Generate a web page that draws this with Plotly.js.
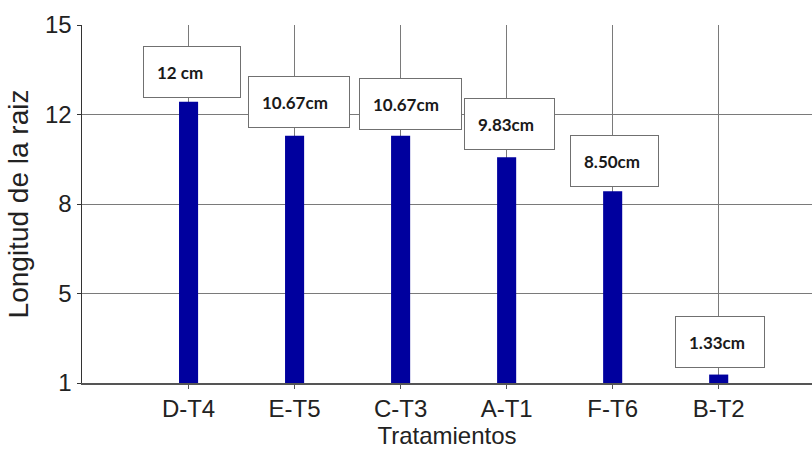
<!DOCTYPE html>
<html>
<head>
<meta charset="utf-8">
<script src="https://cdn.plot.ly/plotly-3.0.1.min.js"></script>
<style>html,body{margin:0;padding:0;background:#fff;}#chart{width:812px;height:455px;}</style>
</head>
<body>
<div id="chart"></div>
<script>
// Data
const categories = ['D-T4', 'E-T5', 'C-T3', 'A-T1', 'F-T6', 'B-T2'];
const rootLength = [12, 10.67, 10.67, 9.83, 8.50, 1.33];
const valueLabels = ['12 cm', '10.67cm', '10.67cm', '9.83cm', '8.50cm', '1.33cm'];
const yTickVals = [1, 4.5, 8, 11.5, 15];
const yTickText = ['1', '5', '8', '12', '15'];

// Label box placement (style)
const boxXShift = [3, 4, 10, 2.5, 1.5, 1];
const boxYShift = [30, 34, 32, 33, 30, 33];
const boxWidth = [70, 74, 75, 63, 61, 62];

const annotations = categories.map((c, i) => ({
  x: c, y: rootLength[i], xref: 'x', yref: 'y',
  text: valueLabels[i], showarrow: false,
  xanchor: 'center', yanchor: 'middle',
  xshift: boxXShift[i], yshift: boxYShift[i],
  width: boxWidth[i], height: 24, align: 'left', valign: 'middle',
  bgcolor: '#ffffff', bordercolor: '#707070', borderwidth: 1, borderpad: 13,
  font: {family: 'Lato, Open Sans, sans-serif', size: 17, color: '#1a1a1a', weight: 700}
}));

// bars start at 1 (axis bottom) -> drawn height = value - 1 above base 1
const trace = {
  type: 'bar', x: categories, y: rootLength.map(v => v - 1), base: 1,
  width: 0.18,
  marker: {color: '#00009E', line: {width: 0}},
  hoverinfo: 'skip'
};

const layout = {
  width: 812, height: 455,
  margin: {l: 82, r: 0, t: 25, b: 72},
  paper_bgcolor: '#ffffff', plot_bgcolor: '#ffffff',
  showlegend: false,
  font: {family: 'Liberation Sans, Arial, sans-serif', color: '#222'},
  xaxis: {
    type: 'category', range: [-1.005, 5.88],
    showgrid: true, gridcolor: '#7a7a7a', gridwidth: 1,
    showline: true, linecolor: '#555', linewidth: 1.5,
    ticks: 'outside', ticklen: 4, tickcolor: '#555',
    tickfont: {size: 24, color: '#222'},
    title: {text: 'Tratamientos', font: {size: 24, color: '#222'}, standoff: 4},
    fixedrange: true
  },
  yaxis: {
    range: [1, 15], tickvals: yTickVals, ticktext: yTickText,
    showgrid: true, gridcolor: '#7a7a7a', gridwidth: 1,
    showline: true, linecolor: '#333', linewidth: 1.5,
    ticks: 'outside', ticklen: 4, tickcolor: '#333',
    tickfont: {size: 24, color: '#222'},
    zeroline: false,
    title: {text: 'Longitud de la raiz', font: {size: 28, color: '#222'}, standoff: 8},
    fixedrange: true
  },
  annotations: annotations
};

Plotly.newPlot('chart', [trace], layout, {displayModeBar: false, staticPlot: true});
</script>
</body>
</html>
